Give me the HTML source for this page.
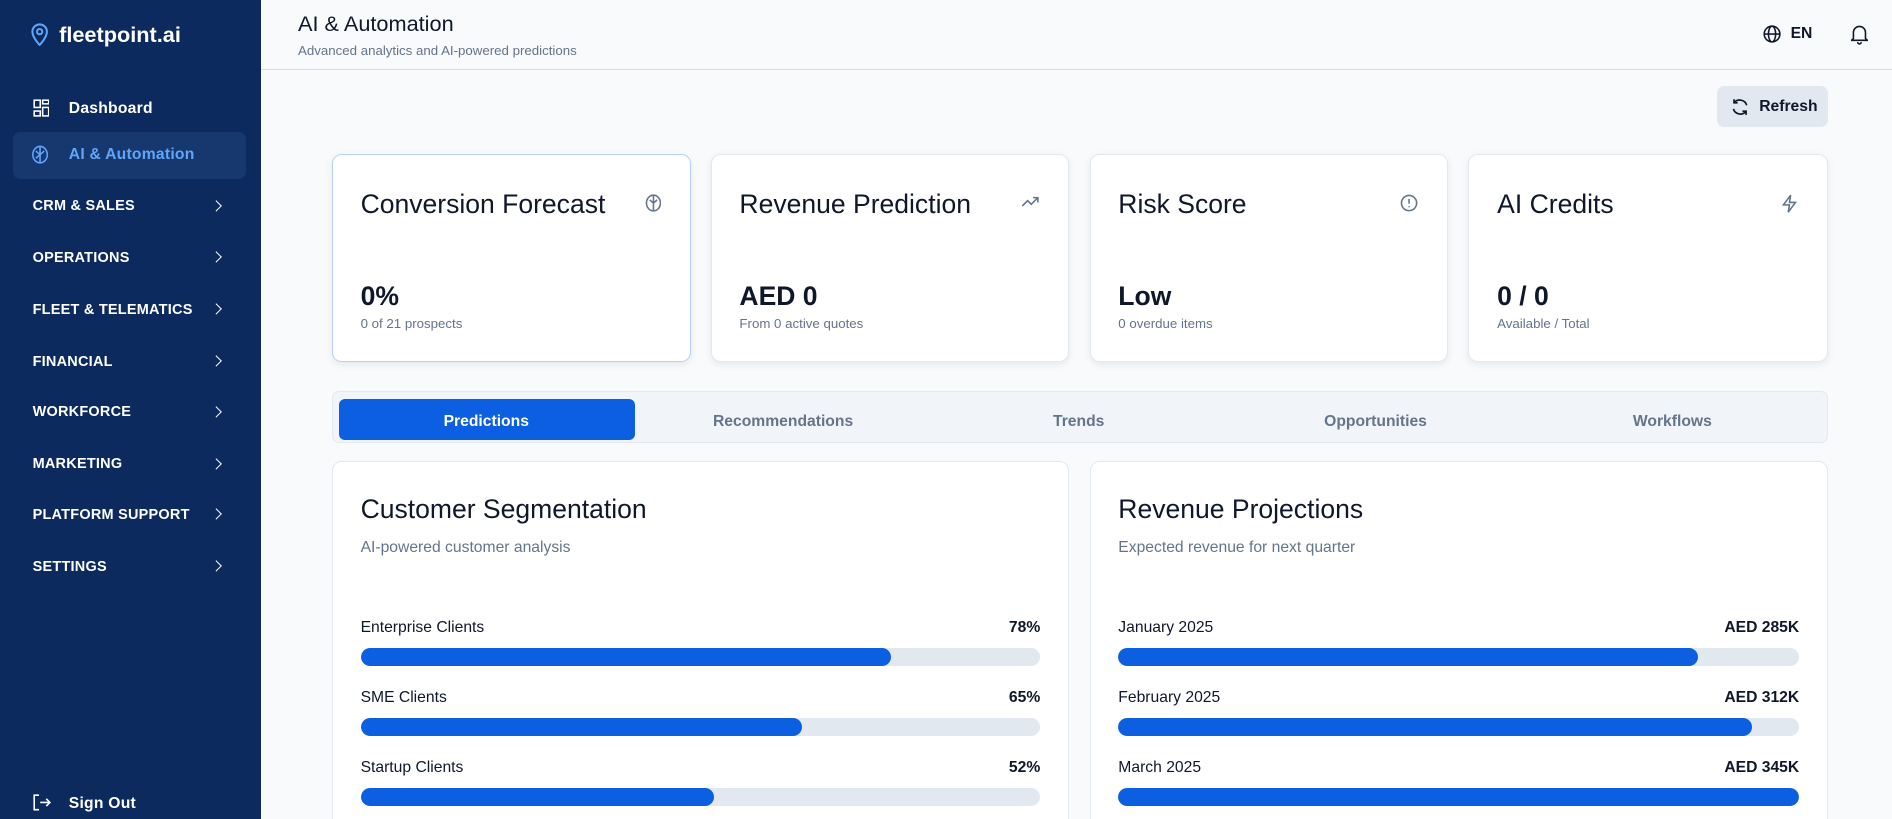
<!DOCTYPE html>
<html><head><meta charset="utf-8"><style>
*{box-sizing:border-box;margin:0;padding:0}
html,body{width:1892px;height:819px;overflow:hidden;background:#f8fafc}
body{font-family:"Liberation Sans",sans-serif}
#root{zoom:1.2066;width:1568px;height:679px;position:relative;color:#0f172a}
.abs{position:absolute}
.sb{left:0;top:0;width:216px;height:679px;background:#0c2a5e}
.nav{position:absolute;left:27px;color:#fff;font-size:12px;font-weight:bold;letter-spacing:.2px}
.chev{position:absolute;left:176px;width:7px;height:7px;border-right:1.6px solid #fff;border-top:1.6px solid #fff;transform:rotate(45deg)}
.card{position:absolute;top:128px;height:172px;background:#fff;border:1px solid #e2e8f0;border-radius:8px;box-shadow:0 2px 6px rgba(15,23,42,.08)}
.card .t{position:absolute;left:23px;top:28px;font-size:22px}
.card .v{position:absolute;left:23px;top:104px;font-size:22px;font-weight:bold}
.card .s{position:absolute;left:23px;top:133px;font-size:11px;color:#64748b}
.card svg{position:absolute;right:24px;top:32px}
.tab{position:absolute;top:342px;font-size:13px;font-weight:bold;color:#64748b;transform:translateX(-50%)}
.panel{position:absolute;top:382px;height:310px;background:#fff;border:1px solid #e2e8f0;border-radius:8px}
.panel .t{position:absolute;left:23px;top:27px;font-size:22px}
.panel .s{position:absolute;left:23px;top:64px;font-size:13px;color:#64748b}
.lbl{position:absolute;font-size:13px}
.val{position:absolute;font-size:13px;font-weight:bold;text-align:right}
.track{position:absolute;height:15px;background:#e2e8f0;border-radius:8px;overflow:hidden}
.fill{height:100%;background:#0b5fe0;border-radius:8px}
</style></head><body>
<div id="root">
<div class="abs sb">
 <svg class="abs" style="left:25px;top:18px" width="16" height="20" viewBox="0 0 16 20"><path d="M8 19s6-6 6-11A6 6 0 0 0 2 8c0 5 6 11 6 11z" fill="none" stroke="#60a5fa" stroke-width="1.7"/><circle cx="8" cy="8" r="2.2" fill="none" stroke="#60a5fa" stroke-width="1.7"/></svg>
 <div class="abs" style="left:49px;top:18px;color:#fff;font-size:18px;font-weight:bold">fleetpoint.ai</div>
 <svg class="abs" style="left:27px;top:82px" width="14" height="15"><g fill="none" stroke="#fff" stroke-width="1.3"><rect x="1" y="1" width="5" height="6"/><rect x="8" y="1" width="5" height="3"/><rect x="8" y="7" width="5" height="7"/><rect x="1" y="10" width="5" height="4"/></g></svg>
 <div class="nav" style="left:57px;top:83px;font-size:13px">Dashboard</div>
 <div class="abs" style="left:11px;top:109px;width:193px;height:39px;background:#17376f;border-radius:6px"></div>
 <svg class="abs" style="left:26px;top:120px" width="15" height="16"><g fill="none" stroke="#60a5fa" stroke-width="1.3"><ellipse cx="7.5" cy="8" rx="6" ry="6.8"/><path d="M7.5 1.5v13M4 5l3.5 3 3.5-3M4 11l3.5-3"/></g></svg>
 <div class="nav" style="left:57px;top:121px;font-size:13px;color:#60a5fa">AI &amp; Automation</div>
 <div class="nav" style="top:164px">CRM &amp; SALES</div><div class="chev" style="top:167px"></div>
 <div class="nav" style="top:207px">OPERATIONS</div><div class="chev" style="top:210px"></div>
 <div class="nav" style="top:250px">FLEET &amp; TELEMATICS</div><div class="chev" style="top:253px"></div>
 <div class="nav" style="top:293px">FINANCIAL</div><div class="chev" style="top:296px"></div>
 <div class="nav" style="top:335px">WORKFORCE</div><div class="chev" style="top:338px"></div>
 <div class="nav" style="top:378px">MARKETING</div><div class="chev" style="top:381px"></div>
 <div class="nav" style="top:420px">PLATFORM SUPPORT</div><div class="chev" style="top:423px"></div>
 <div class="nav" style="top:463px">SETTINGS</div><div class="chev" style="top:466px"></div>
 <svg class="abs" style="left:27px;top:658px" width="15" height="14"><g fill="none" stroke="#fff" stroke-width="1.3"><path d="M5 1H1v12h4M6 7h8M11 4l3 3-3 3"/></g></svg>
 <div class="nav" style="left:57px;top:659px;font-size:13px">Sign Out</div>
</div>
<div class="abs" style="left:216px;top:0;width:1352px;height:58px;border-bottom:1px solid #d5dde8;background:#f8fafc"></div>
<div class="abs" style="left:247px;top:9px;font-size:18px">AI &amp; Automation</div>
<div class="abs" style="left:247px;top:36px;font-size:11px;color:#64748b">Advanced analytics and AI-powered predictions</div>
<svg class="abs" style="left:1461px;top:21px" width="15" height="15"><g fill="none" stroke="#0f172a" stroke-width="1.3"><circle cx="7.5" cy="7.5" r="6.5"/><ellipse cx="7.5" cy="7.5" rx="3" ry="6.5"/><path d="M1 7.5h13"/></g></svg>
<div class="abs" style="left:1484px;top:21px;font-size:13px;font-weight:bold">EN</div>
<svg class="abs" style="left:1534px;top:20px" width="14" height="17"><g fill="none" stroke="#0f172a" stroke-width="1.3"><path d="M2 12V7a5 5 0 0 1 10 0v5l1.5 1.5h-13z"/><path d="M5.5 15a1.5 1.5 0 0 0 3 0"/></g></svg>
<div class="abs" style="left:1423px;top:71px;width:92px;height:34px;background:#e2e8f0;border-radius:6px">
 <svg class="abs" style="left:12px;top:10px" width="15" height="15"><g fill="none" stroke="#0f172a" stroke-width="1.4"><path d="M13 6A6 6 0 0 0 2.5 4M2 9a6 6 0 0 0 10.5 2"/><path d="M2.5 1v3h3M12.5 14v-3h-3"/></g></svg>
 <div class="abs" style="left:35px;top:10px;font-size:13px;font-weight:bold">Refresh</div>
</div>
<div class="card" style="left:275px;width:298px;border-color:#b9cff5"><div class="t">Conversion Forecast</div><svg width="14" height="15"><g fill="none" stroke="#64748b" stroke-width="1.3"><ellipse cx="7" cy="7.5" rx="5.8" ry="6.5"/><path d="M7 1v13M4 5l3 2.5L10 5"/></g></svg><div class="v">0%</div><div class="s">0 of 21 prospects</div></div>
<div class="card" style="left:589px;width:297px"><div class="t">Revenue Prediction</div><svg width="15" height="12"><g fill="none" stroke="#64748b" stroke-width="1.3"><path d="M1 10l4.5-4.5 3 3L14 3M10 3h4v4"/></g></svg><div class="v">AED 0</div><div class="s">From 0 active quotes</div></div>
<div class="card" style="left:903px;width:297px"><div class="t">Risk Score</div><svg width="15" height="15"><g fill="none" stroke="#64748b" stroke-width="1.3"><circle cx="7.5" cy="7.5" r="6.3"/><path d="M7.5 4v4M7.5 10v1"/></g></svg><div class="v">Low</div><div class="s">0 overdue items</div></div>
<div class="card" style="left:1217px;width:298px"><div class="t">AI Credits</div><svg width="14" height="16"><path d="M8 1L2 9h5l-1 6 6-8H7z" fill="none" stroke="#64748b" stroke-width="1.3"/></svg><div class="v">0 / 0</div><div class="s">Available / Total</div></div>
<div class="abs" style="left:275px;top:324px;width:1240px;height:43px;background:#f1f5f9;border:1px solid #e2e8f0;border-radius:6px"></div>
<div class="abs" style="left:281px;top:331px;width:245px;height:34px;background:#0b5fe0;border-radius:5px"></div>
<div class="tab" style="left:403px;color:#fff">Predictions</div>
<div class="tab" style="left:649px">Recommendations</div>
<div class="tab" style="left:894px">Trends</div>
<div class="tab" style="left:1140px">Opportunities</div>
<div class="tab" style="left:1386px">Workflows</div>
<div class="panel" style="left:275px;width:611px" id="p1"><div class="t">Customer Segmentation</div><div class="s">AI-powered customer analysis</div></div>
<div class="panel" style="left:903px;width:612px" id="p2"><div class="t">Revenue Projections</div><div class="s">Expected revenue for next quarter</div></div>
</div>
<script>
const segCategories=["Enterprise Clients","SME Clients","Startup Clients"];
const segValues=[78,65,52];
const revCategories=["January 2025","February 2025","March 2025"];
const revValues=[285,312,345];
const revMax=335;
function draw(panelId,cats,vals,toFrac,fmt,nm){
 const p=document.getElementById(panelId);
 cats.forEach((c,i)=>{
  const y=130+i*58;
  const l=document.createElement('div');l.className='lbl';l.style.left='23px';l.style.top=y+'px';l.textContent=c;
  
  
  const v=document.createElement('div');v.className='val';v.style.right='23px';v.style.top=y+'px';v.textContent=fmt(vals[i]);
  
  
  const t=document.createElement('div');t.className='track';t.style.left='23px';t.style.right='23px';t.style.top=(y+24)+'px';
  
  
  const f=document.createElement('div');f.className='fill';f.style.width=(Math.min(1,toFrac(vals[i]))*100)+'%';
  
  
  t.appendChild(f);p.appendChild(l);p.appendChild(v);p.appendChild(t);
 });
}
draw('p1',segCategories,segValues,v=>v/100,v=>v+'%','segment');
draw('p2',revCategories,revValues,v=>v/revMax,v=>'AED '+v+'K','revenue');
</script>
</body></html>
